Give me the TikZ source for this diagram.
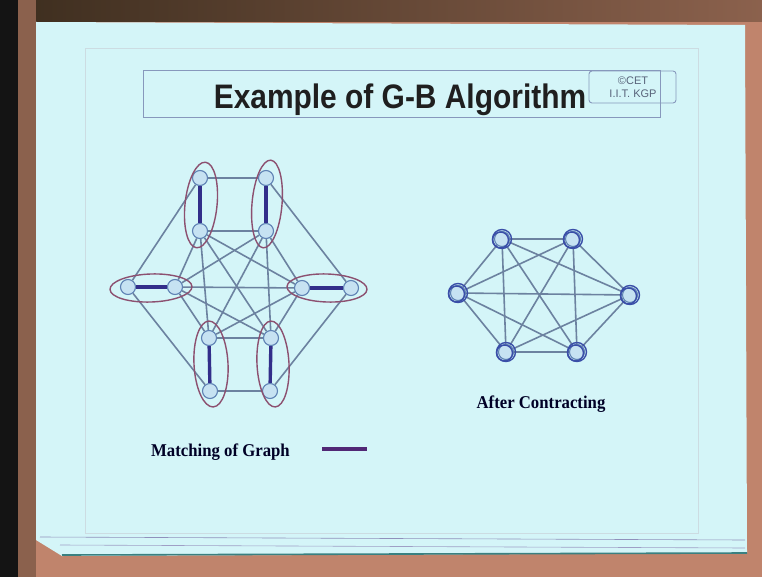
\documentclass[tikz,border=0pt]{standalone}
\usepackage{fontspec}
\setmainfont{Liberation Serif}
\newfontfamily\sansfont{Liberation Sans}
\usetikzlibrary{calc}
\definecolor{slide}{RGB}{212,245,248}
\definecolor{wood}{RGB}{192,132,108}
\definecolor{darkwood}{RGB}{60,45,30}
\definecolor{edgec}{RGB}{108,130,160}
\definecolor{matchc}{RGB}{50,46,138}
\definecolor{ringc}{RGB}{140,80,112}
\definecolor{vfill}{RGB}{198,226,242}
\definecolor{vdraw}{RGB}{95,130,180}
\definecolor{scribc}{RGB}{58,78,168}
\definecolor{boxc}{RGB}{135,152,188}
\begin{document}
\begin{tikzpicture}[x=1pt,y=-1pt,
  vtx/.style={circle,draw=vdraw,fill=vfill,line width=1.1pt,minimum size=15pt,inner sep=0pt},
  gedge/.style={draw=edgec,line width=1.6pt},
  matchedge/.style={draw=matchc,line width=3.4pt},
  ring/.style={draw=ringc,line width=1.4pt},
  scrib/.style={draw=scribc,line width=1.4pt},
  lbl/.style={font=\bfseries\fontsize{18}{20}\selectfont,text=black!85!blue,xscale=0.93,inner sep=0pt}]
\useasboundingbox (0,0) rectangle (762,577);
% frame
\fill[wood] (0,0) rectangle (762,577);
\fill[left color=darkwood,right color=wood!60!darkwood] (0,0) rectangle (762,22);
\fill[wood!60!darkwood] (18,0) rectangle (36,577);
\fill[black!92] (0,0) rectangle (18,577);
% slide
\fill[slide] (36,22) -- (745,25) -- (747,553) -- (62,556) -- (36,540) -- cycle;
\draw[cyan!30!gray!35,line width=0.5pt] (85,48) rectangle (698,533);
\draw[blue!25!gray!70,line width=0.6pt] (40,537) -- (745,540);
\draw[blue!25!gray!60,line width=0.6pt] (60,545) -- (745,548);
\draw[teal!55!gray,line width=1.6pt] (62,555) -- (747,553);
% title
\draw[boxc,line width=0.9pt] (143,70) rectangle (660,117);
\node[font=\sansfont\bfseries\fontsize{34}{38}\selectfont,text=black!88,xscale=0.88,anchor=base,inner sep=0pt] (title) at (400,109) {Example of G-B Algorithm};
\draw[boxc,rounded corners=3pt,line width=0.9pt] (589,71) rectangle (676,103);
\node[font=\sansfont\fontsize{11}{13}\selectfont,text=boxc!65!black,align=center,inner sep=0pt] (cet) at (633,87) {©CET\\I.I.T. KGP};
% left graph
\node[vtx] (T1) at (200,178) {};
\node[vtx] (T2) at (266,178) {};
\node[vtx] (M1) at (200,231) {};
\node[vtx] (M2) at (266,231) {};
\node[vtx] (L1) at (128,287) {};
\node[vtx] (L2) at (175,287) {};
\node[vtx] (R1) at (302,288) {};
\node[vtx] (R2) at (351,288) {};
\node[vtx] (B1) at (209,338) {};
\node[vtx] (B2) at (271,338) {};
\node[vtx] (D1) at (210,391) {};
\node[vtx] (D2) at (270,391) {};
\foreach \a/\b in {T1/T2,M1/M2,B1/B2,D1/D2,T1/L1,T2/R2,L1/D1,R2/D2,M1/L2,M2/R1,L2/B1,R1/B2,L2/R1,M1/B1,M2/B2,M1/B2,M2/B1,M1/R1,M2/L2,L2/B2,R1/B1}
  \draw[gedge] (\a) -- (\b);
\foreach \a/\b in {T1/M1,T2/M2,L1/L2,R1/R2,B1/D1,B2/D2}
  \draw[matchedge] (\a) -- (\b);
\draw[ring,rotate around={-6:(201,205)}] (201,205) ellipse [x radius=16,y radius=43];
\draw[ring,rotate around={-5:(267,204)}] (267,204) ellipse [x radius=15,y radius=44];
\draw[ring,rotate around={2:(151,288)}] (151,288) ellipse [x radius=41,y radius=14];
\draw[ring,rotate around={-2:(327,288)}] (327,288) ellipse [x radius=40,y radius=14];
\draw[ring,rotate around={3:(211,364)}] (211,364) ellipse [x radius=17,y radius=43];
\draw[ring,rotate around={3:(273,364)}] (273,364) ellipse [x radius=16,y radius=43];
% right graph
\node[vtx] (P1) at (502,239) {};
\node[vtx] (P2) at (573,239) {};
\node[vtx] (P3) at (458,293) {};
\node[vtx] (P4) at (630,295) {};
\node[vtx] (P5) at (506,352) {};
\node[vtx] (P6) at (577,352) {};
\foreach \a/\b in {P1/P2,P1/P3,P1/P4,P1/P5,P1/P6,P2/P3,P2/P4,P2/P5,P2/P6,P3/P4,P3/P5,P3/P6,P4/P5,P4/P6,P5/P6}
  \draw[gedge] (\a) -- (\b);
\foreach \p in {P1,P2,P3,P4,P5,P6}{
  \draw[scrib] (\p) circle [radius=9.5];
  \draw[scrib] ($(\p)+(-1.5,1)$) circle [radius=8];
}
% labels
\node[lbl,anchor=base] (ac) at (541,408) {After Contracting};
\node[lbl,anchor=base west] (mog) at (151,456) {Matching of Graph};
\coordinate (lg1) at (322,449);
\coordinate (lg2) at (367,449);
\draw[matchedge,draw=matchc!85!red] (lg1) -- (lg2);
\end{tikzpicture}
\end{document}
